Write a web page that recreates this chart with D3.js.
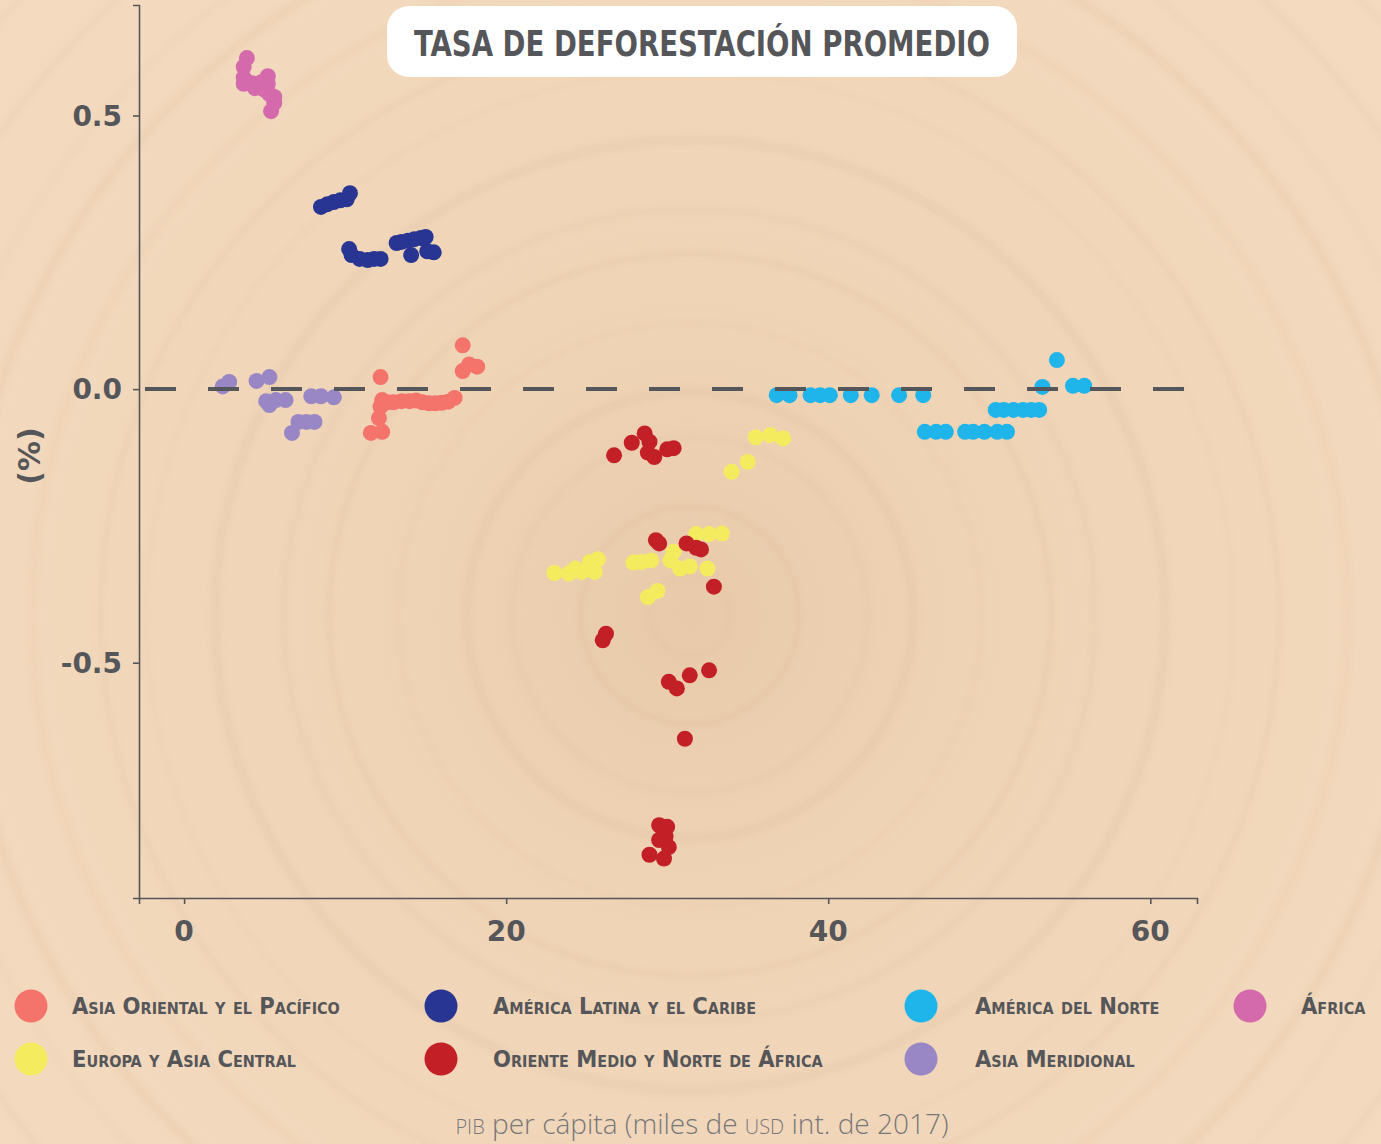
<!DOCTYPE html>
<html>
<head>
<meta charset="utf-8">
<script src="https://cdn.jsdelivr.net/npm/d3@7"></script>
<style>
  html, body { margin: 0; padding: 0; background: #f2d7ba; }
  svg { display: block; }
</style>
</head>
<body>
<svg id="chart" width="1381" height="1144"></svg>
<script>
"use strict";

// GDP per capita (thousand int. USD 2017) vs average deforestation rate (%)
// each region is a list of [gdp, rate] pairs
var asiaPacifico = [
  [12.2, 0.022], [12.3, -0.020], [12.6, -0.024], [13.0, -0.024], [13.5, -0.022],
  [14.0, -0.022], [14.4, -0.021], [14.8, -0.024], [15.2, -0.026], [15.6, -0.026],
  [16.0, -0.025], [16.4, -0.023], [16.8, -0.016], [12.2, -0.032], [12.1, -0.053],
  [11.6, -0.080], [12.3, -0.078], [17.3, 0.080], [17.3, 0.033], [17.7, 0.045], [18.2, 0.041]
];
var latinoamerica = [
  [8.5, 0.333], [8.9, 0.338], [9.3, 0.342], [9.7, 0.345], [10.1, 0.347], [10.3, 0.358],
  [10.25, 0.256], [10.4, 0.245], [10.9, 0.238], [11.4, 0.236], [11.8, 0.238], [12.2, 0.238],
  [13.2, 0.267], [13.5, 0.269], [13.9, 0.271], [14.3, 0.274], [14.7, 0.276], [15.0, 0.278],
  [14.1, 0.245], [15.1, 0.252], [15.5, 0.250]
];
var norteamerica = [
  [36.8, -0.011], [37.6, -0.011], [38.9, -0.011], [39.5, -0.011], [40.1, -0.011],
  [41.4, -0.011], [42.7, -0.011], [44.4, -0.011], [45.9, -0.011],
  [50.4, -0.038], [50.9, -0.038], [51.5, -0.038], [52.1, -0.038], [52.6, -0.038], [53.1, -0.038],
  [46.0, -0.078], [46.7, -0.078], [47.3, -0.078], [48.5, -0.078], [49.0, -0.078],
  [49.7, -0.078], [50.5, -0.078], [51.1, -0.078],
  [53.3, 0.004], [55.2, 0.006], [55.9, 0.006], [54.2, 0.053]
];
var africa = [
  [3.9, 0.605], [3.7, 0.589], [3.7, 0.569], [3.7, 0.558], [4.2, 0.559], [4.4, 0.550],
  [4.8, 0.561], [5.2, 0.572], [5.2, 0.558], [5.0, 0.547], [5.3, 0.539], [5.6, 0.534],
  [5.6, 0.523], [5.4, 0.508]
];
var europaAsiaCentral = [
  [35.5, -0.088], [36.4, -0.084], [37.2, -0.090], [34.0, -0.151], [35.0, -0.133],
  [23.0, -0.336], [23.9, -0.337], [24.3, -0.328], [24.7, -0.334], [25.2, -0.316],
  [25.5, -0.334], [25.7, -0.311], [27.9, -0.317], [28.4, -0.316], [29.0, -0.313],
  [30.2, -0.313], [30.4, -0.297], [30.8, -0.328], [31.4, -0.324], [32.5, -0.328],
  [31.8, -0.265], [32.6, -0.265], [33.4, -0.264], [28.8, -0.380], [29.4, -0.369]
];
var orienteMedio = [
  [26.7, -0.121], [27.8, -0.098], [28.6, -0.081], [28.9, -0.096], [28.8, -0.116],
  [29.2, -0.124], [30.0, -0.110], [30.4, -0.108], [29.3, -0.276], [29.5, -0.282],
  [31.2, -0.282], [31.8, -0.290], [32.1, -0.293], [32.9, -0.361], [26.2, -0.447],
  [26.0, -0.459], [30.1, -0.535], [30.6, -0.547], [31.4, -0.523], [32.6, -0.514],
  [31.1, -0.639], [29.5, -0.797], [30.0, -0.800], [29.9, -0.818], [29.5, -0.824],
  [30.1, -0.837], [28.9, -0.851], [29.8, -0.858]
];
var asiaMeridional = [
  [2.4, 0.005], [2.8, 0.013], [4.5, 0.015], [5.3, 0.022], [5.1, -0.022], [5.3, -0.029],
  [5.7, -0.020], [6.3, -0.020], [7.9, -0.013], [8.5, -0.013], [9.3, -0.015],
  [6.7, -0.080], [7.1, -0.060], [7.6, -0.060], [8.1, -0.060]
];

var regionNames = [
  "Asia Oriental y el Pacífico", "América Latina y el Caribe", "América del Norte", "África",
  "Europa y Asia Central", "Oriente Medio y Norte de África", "Asia Meridional"
];
var regionColors = ["#f4736b", "#283593", "#1fb4ea", "#d46aab", "#f4ec5e", "#c21f26", "#9887c4"];
var regionData = [asiaPacifico, latinoamerica, norteamerica, africa, europaAsiaCentral, orienteMedio, asiaMeridional];

var xTicks = [0, 20, 40, 60];
var yTicks = [-0.5, 0.0, 0.5];

var svg = d3.select("#chart");
var W = 1381, H = 1144;
var ink = "#555659";

// wood-ish background: base colour plus faint concentric rings
var defs = svg.append("defs");
var grad = defs.append("radialGradient").attr("id", "wood")
  .attr("cx", 690).attr("cy", 615).attr("r", 900).attr("gradientUnits", "userSpaceOnUse");
grad.append("stop").attr("offset", "0%").attr("stop-color", "#e8caaa");
grad.append("stop").attr("offset", "30%").attr("stop-color", "#efd3b5");
grad.append("stop").attr("offset", "100%").attr("stop-color", "#f4dbc0");
defs.append("filter").attr("id", "soft").append("feGaussianBlur").attr("stdDeviation", 2.5);

svg.append("rect").attr("width", W).attr("height", H).attr("fill", "url(#wood)");
svg.append("g").attr("filter", "url(#soft)")
  .selectAll("circle.ring")
  .data(d3.range(40, 1150, 61))
  .enter()
  .append("circle")
  .attr("class", "ring")
  .attr("cx", 690).attr("cy", 615)
  .attr("r", (d, i) => d + (i % 3) * 8)
  .attr("fill", "none")
  .attr("stroke", "#b88a60")
  .attr("stroke-opacity", (d, i) => 0.05 + (i % 2) * 0.03)
  .attr("stroke-width", (d, i) => 4 + (i % 4) * 2);

// scales
var x = d3.scaleLinear().domain([-2.8, 62.9]).range([139, 1197]);
var y = d3.scaleLinear().domain([-0.93, 0.702]).range([898, 5]);

// axis lines + ticks (labels drawn separately)
var gx = svg.append("g").attr("transform", "translate(0,898)")
  .call(d3.axisBottom(x).tickValues(xTicks).tickSize(6).tickFormat(""));
var gy = svg.append("g").attr("transform", "translate(139,0)")
  .call(d3.axisLeft(y).tickValues(yTicks).tickSize(6).tickFormat(""));
[gx, gy].forEach(g => {
  g.select(".domain").attr("stroke", ink).attr("stroke-width", 1.6);
  g.selectAll(".tick line").attr("stroke", ink).attr("stroke-width", 1.6);
});

svg.append("g").selectAll("text")
  .data(xTicks).enter().append("text")
  .attr("x", d => x(d)).attr("y", 941)
  .attr("text-anchor", "middle")
  .style("font", "bold 28px 'DejaVu Sans'")
  .attr("fill", ink)
  .text(d => d);

svg.append("g").selectAll("text")
  .data(yTicks).enter().append("text")
  .attr("x", 122).attr("y", d => y(d) + 10)
  .attr("text-anchor", "end")
  .style("font", "bold 28px 'DejaVu Sans'")
  .attr("fill", ink)
  .text(d => d3.format(".1f")(d).replace("−", "-"));

svg.append("text")
  .attr("transform", "translate(40,456) rotate(-90)")
  .attr("text-anchor", "middle")
  .style("font", "bold 30px 'DejaVu Sans'")
  .attr("fill", ink)
  .text("(%)");

// points
var pts = svg.append("g");
regionData.forEach((rows, k) => {
  pts.selectAll("circle.r" + k)
    .data(rows).enter()
    .append("circle")
    .attr("class", "r" + k)
    .attr("cx", d => x(d[0]))
    .attr("cy", d => y(d[1]))
    .attr("r", 8)
    .attr("fill", regionColors[k]);
});

// zero reference line, on top of the points
svg.append("line")
  .attr("x1", 145).attr("x2", x(62.9))
  .attr("y1", y(0)).attr("y2", y(0))
  .attr("stroke", ink).attr("stroke-width", 4)
  .attr("stroke-dasharray", "31 32");

// title box
svg.append("rect")
  .attr("x", 387).attr("y", 6).attr("width", 630).attr("height", 71)
  .attr("rx", 22).attr("fill", "#fff");
svg.append("text")
  .attr("x", 702).attr("y", 56)
  .attr("text-anchor", "middle")
  .attr("textLength", 576)
  .attr("lengthAdjust", "spacingAndGlyphs")
  .style("font", "bold 35px 'DejaVu Sans Condensed', 'DejaVu Sans', sans-serif")
  .attr("fill", ink)
  .text("TASA DE DEFORESTACIÓN PROMEDIO");

// legend: 4 columns x 2 rows
var legCircleX = [31, 441, 921, 1250];
var legTextX = [72, 493, 975, 1301];
var legRowY = [1006, 1059];
var leg = svg.append("g").selectAll("g")
  .data(regionNames).enter().append("g")
  .attr("transform", (d, i) => "translate(0," + legRowY[i < 4 ? 0 : 1] + ")");
leg.append("circle")
  .attr("cx", (d, i) => legCircleX[i % 4])
  .attr("r", 16.5)
  .attr("fill", (d, i) => regionColors[i]);
leg.append("text")
  .attr("x", (d, i) => legTextX[i % 4])
  .attr("y", 8)
  .style("font", "bold 23.5px 'DejaVu Sans Condensed', 'DejaVu Sans', sans-serif")
  .style("font-variant", "small-caps")
  .attr("fill", ink)
  .text(d => d);

// x axis title with small caps acronyms
var xt = svg.append("text")
  .attr("x", 702).attr("y", 1134)
  .attr("text-anchor", "middle")
  .style("font", "300 28px 'Open Sans', sans-serif")
  .attr("fill", "#77787a");
xt.append("tspan").style("font-variant", "small-caps").text("pib");
xt.append("tspan").text(" per cápita (miles de ");
xt.append("tspan").style("font-variant", "small-caps").text("usd");
xt.append("tspan").text(" int. de 2017)");
</script>
</body>
</html>
